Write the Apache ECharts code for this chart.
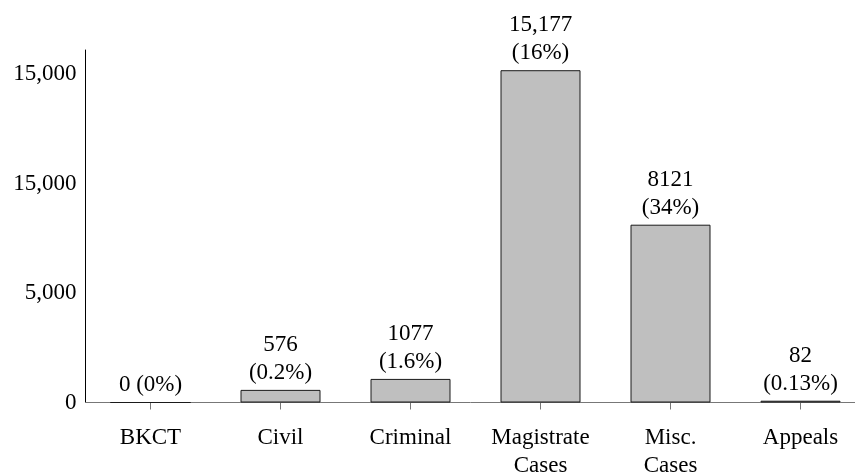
<!DOCTYPE html>
<html>
<head>
<meta charset="utf-8">
<script src="https://cdn.jsdelivr.net/npm/echarts@6/dist/echarts.min.js"></script>
<style>
html,body{margin:0;padding:0;background:#fff;}
#chart{width:855px;height:474px;}
</style>
</head>
<body>
<div id="chart"></div>
<script>
var categories = ['BKCT', 'Civil', 'Criminal', 'Magistrate\nCases', 'Misc.\nCases', 'Appeals'];
var values = [0, 576, 1077, 15177, 8121, 82];
var valueTexts = ['0', '576', '1077', '15,177', '8121', '82'];
var percentTexts = ['0%', '0.2%', '1.6%', '16%', '34%', '0.13%'];
var tickValues = [0, 5000, 10000, 15000];
var tickLabels = ['0', '5,000', '15,000', '15,000'];

var FONT = '"Liberation Serif", "DejaVu Serif", serif';
var chart = echarts.init(document.getElementById('chart'), null, {renderer: 'canvas'});
chart.setOption({
  animation: false,
  backgroundColor: '#fff',
  grid: {left: 85.5, top: 50, width: 780, bottom: 71.5, containLabel: false, outerBoundsMode: 'none'},
  xAxis: {
    type: 'category',
    data: categories,
    boundaryGap: true,
    axisLine: {lineStyle: {color: '#777', width: 1}},
    axisTick: {show: true, alignWithLabel: true, length: 7, lineStyle: {color: '#777'}},
    axisLabel: {
      color: '#000', fontFamily: FONT, fontSize: 23, lineHeight: 28,
      margin: 21, interval: 0
    },
    splitLine: {show: false}
  },
  yAxis: {
    type: 'value',
    min: 0,
    max: 16100,
    interval: 5000,
    axisLine: {show: true, lineStyle: {color: '#000', width: 1}},
    axisTick: {show: false},
    splitLine: {show: false},
    axisLabel: {
      color: '#000', fontFamily: FONT, fontSize: 23, margin: 9,
      formatter: function (v) {
        var i = tickValues.indexOf(v);
        return i >= 0 ? tickLabels[i] : '';
      }
    }
  },
  series: [{
    type: 'bar',
    data: values,
    barWidth: 80,
    itemStyle: {color: '#bfbfbf', borderColor: '#1a1a1a', borderWidth: 1},
    label: {
      show: true,
      position: 'top',
      distance: 3,
      color: '#000',
      fontFamily: FONT,
      fontSize: 23,
      lineHeight: 28,
      formatter: function (p) {
        var i = p.dataIndex;
        if (values[i] === 0) return valueTexts[i] + ' (' + percentTexts[i] + ')';
        return valueTexts[i] + '\n(' + percentTexts[i] + ')';
      }
    }
  }]
});
</script>
</body>
</html>
